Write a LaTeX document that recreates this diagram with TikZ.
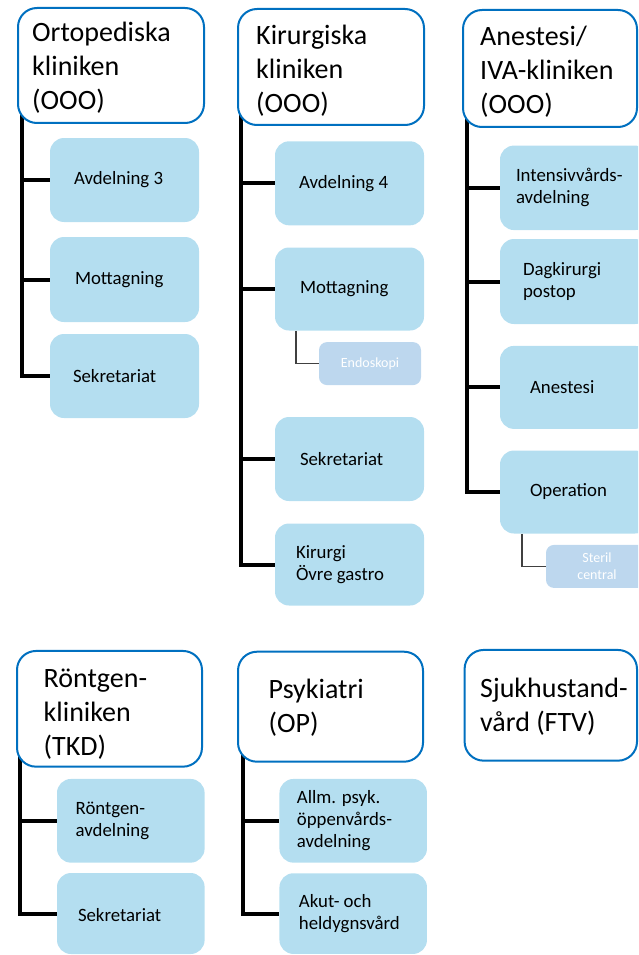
\documentclass[tikz,border=0pt]{standalone}
\usepackage{fontspec}
\setmainfont{Carlito}
\usetikzlibrary{backgrounds}

\definecolor{hdrblue}{RGB}{0,112,192}
\definecolor{cellblue}{RGB}{180,222,240}
\definecolor{subblue}{RGB}{189,215,238}

\tikzset{
  hdr/.style={draw=hdrblue, line width=2pt, fill=white, rounded corners=19pt},
  cell/.style={fill=cellblue, draw=none, rounded corners=14pt},
  subcell/.style={fill=subblue, draw=none, rounded corners=8pt, align=center,
    text=white, inner sep=0pt, font=\fontsize{14}{17.5}\selectfont},
  htxt/.style={align=left, inner sep=0pt, anchor=west,
    font=\fontsize{28}{34}\selectfont},
  ctxt/.style={align=left, inner sep=0pt, anchor=west,
    font=\fontsize{18.8}{22}\selectfont},
  trunk/.style={line width=4pt, black},
  twig/.style={line width=1.5pt, black!75},
}

\begin{document}
\begin{tikzpicture}[x=1pt, y=-1pt]
\useasboundingbox (0,0) rectangle (638,955);
\clip (0,0) rectangle (638,955);

% ---------------- Ortopediska kliniken ----------------
\node[hdr, minimum width=186pt, minimum height=115pt] (ortho) at (111,65.5) {};
\node[htxt] (orthoT) at ([xshift=15pt,yshift=-2pt]ortho.west) {Ortopediska\\kliniken\\(OOO)};
\node[cell, minimum width=149pt, minimum height=84pt] (o1) at (124.5,180) {};
\node[ctxt] (o1T) at ([xshift=24pt]o1.west) {Avdelning 3};
\node[cell, minimum width=149pt, minimum height=85pt] (o2) at (124.5,279.5) {};
\node[ctxt] (o2T) at ([xshift=25pt]o2.west) {Mottagning};
\node[cell, minimum width=149pt, minimum height=84pt] (o3) at (124.5,376) {};
\node[ctxt] (o3T) at ([xshift=23pt]o3.west) {Sekretariat};

% ---------------- Kirurgiska kliniken ----------------
\node[hdr, minimum width=186pt, minimum height=116pt] (kir) at (331,67) {};
\node[htxt] (kirT) at ([xshift=19pt,yshift=-4pt]kir.west) {Kirurgiska\\kliniken\\(OOO)};
\node[cell, minimum width=149pt, minimum height=84pt] (k1) at (349.5,183.3) {};
\node[ctxt] (k1T) at ([xshift=24pt]k1.west) {Avdelning 4};
\node[cell, minimum width=149pt, minimum height=83pt] (k2) at (349.5,289) {};
\node[ctxt] (k2T) at ([xshift=25pt]k2.west) {Mottagning};
\node[subcell, minimum width=102pt, minimum height=43pt] (k2a) at (370,363.6) {Endoskopi};
\node[cell, minimum width=149pt, minimum height=84pt] (k3) at (349.5,459) {};
\node[ctxt] (k3T) at ([xshift=25pt]k3.west) {Sekretariat};
\node[cell, minimum width=149pt, minimum height=82pt] (k4) at (349.5,564.5) {};
\node[ctxt] (k4T) at ([xshift=21pt]k4.west) {Kirurgi\\Övre gastro};

% ---------------- Anestesi/IVA-kliniken ----------------
\node[hdr, minimum width=174pt, minimum height=117pt] (anes) at (550,68.5) {};
\node[htxt] (anesT) at ([xshift=18pt,yshift=-3pt]anes.west) {Anestesi/\\IVA-kliniken\\(OOO)};
\node[cell, minimum width=149pt, minimum height=84.5pt] (a1) at (574.5,187.8) {};
\node[ctxt] (a1T) at ([xshift=16pt]a1.west) {Intensivvårds-\\avdelning};
\node[cell, minimum width=149pt, minimum height=85pt] (a2) at (574.5,281.5) {};
\node[ctxt] (a2T) at ([xshift=23pt]a2.west) {Dagkirurgi\\postop};
\node[cell, minimum width=149pt, minimum height=83pt] (a3) at (574.5,387.4) {};
\node[ctxt] (a3T) at ([xshift=30pt]a3.west) {Anestesi};
\node[cell, minimum width=149pt, minimum height=83pt] (a4) at (574.5,492) {};
\node[ctxt] (a4T) at ([xshift=30pt]a4.west) {Operation};
\node[subcell, minimum width=102pt, minimum height=43pt] (a4a) at (597,566.4) {Steril\\central};

% ---------------- Röntgenkliniken ----------------
\node[hdr, minimum width=185pt, minimum height=115.7pt] (ront) at (109.5,708.8) {};
\node[htxt] (rontT) at ([xshift=27.5pt,yshift=-5pt]ront.west) {Röntgen-\\kliniken\\(TKD)};
\node[cell, minimum width=147.6pt, minimum height=83.7pt] (r1) at (130.8,820.8) {};
\node[ctxt] (r1T) at ([xshift=18.7pt]r1.west) {Röntgen-\\avdelning};
\node[cell, minimum width=147.6pt, minimum height=81pt] (r2) at (130.8,913.5) {};
\node[ctxt] (r2T) at ([xshift=21pt,yshift=-2pt]r2.west) {Sekretariat};

% ---------------- Psykiatri ----------------
\node[hdr, minimum width=185pt, minimum height=110pt] (psy) at (330.5,706.7) {};
\node[htxt] (psyT) at ([xshift=31.5pt,yshift=-1pt]psy.west) {Psykiatri\\(OP)};
\node[cell, minimum width=147.5pt, minimum height=83.7pt] (p1) at (353.2,820.8) {};
\node[ctxt] (p1T) at ([xshift=17.5pt]p1.west) {Allm. psyk.\\öppenvårds-\\avdelning};
\node[cell, minimum width=147.5pt, minimum height=80.7pt] (p2) at (353.2,913.6) {};
\node[ctxt] (p2T) at ([xshift=19.5pt]p2.west) {Akut- och\\heldygnsvård};

% ---------------- Sjukhustandvård ----------------
\node[hdr, minimum width=172.4pt, minimum height=110.7pt] (sjuk) at (550.8,705.3) {};
\node[htxt] (sjukT) at ([xshift=16.4pt,yshift=-1pt]sjuk.west) {Sjukhustand-\\vård (FTV)};

% ---------------- connectors ----------------
\begin{pgfonlayer}{background}
  % Ortopediska
  \coordinate (orthoTop) at ([xshift=5pt,yshift=12pt]ortho.south west);
  \draw[trunk] (orthoTop) |- (o3.west);
  \draw[trunk] (orthoTop |- o1.west) -- (o1.west);
  \draw[trunk] (orthoTop |- o2.west) -- (o2.west);
  % Kirurgiska
  \coordinate (kirTop) at ([xshift=4pt,yshift=12pt]kir.south west);
  \draw[trunk] (kirTop) |- (k4.west);
  \draw[trunk] (kirTop |- k1.west) -- (k1.west);
  \draw[trunk] (kirTop |- k2.west) -- (k2.west);
  \draw[trunk] (kirTop |- k3.west) -- (k3.west);
  \draw[twig] ([xshift=21pt]k2.south west) |- (k2a.west);
  % Anestesi/IVA
  \coordinate (anesTop) at ([xshift=5pt,yshift=12pt]anes.south west);
  \draw[trunk] (anesTop) |- (a4.west);
  \draw[trunk] (anesTop |- a1.west) -- (a1.west);
  \draw[trunk] (anesTop |- a2.west) -- (a2.west);
  \draw[trunk] (anesTop |- a3.west) -- (a3.west);
  \draw[twig] ([xshift=22pt]a4.south west) |- (a4a.west);
  % Röntgen
  \coordinate (rontTop) at ([xshift=3.5pt,yshift=12pt]ront.south west);
  \draw[trunk] (rontTop) |- (r2.west);
  \draw[trunk] (rontTop |- r1.west) -- (r1.west);
  % Psykiatri
  \coordinate (psyTop) at ([xshift=5.5pt,yshift=12pt]psy.south west);
  \draw[trunk] (psyTop) |- (p2.west);
  \draw[trunk] (psyTop |- p1.west) -- (p1.west);
\end{pgfonlayer}
\end{tikzpicture}
\end{document}
